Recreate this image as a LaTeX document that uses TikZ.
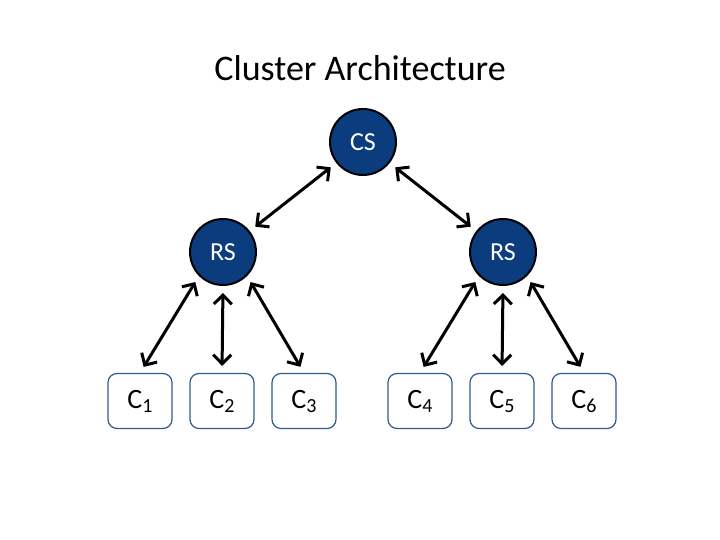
\documentclass[tikz,border=0pt]{standalone}
\usepackage{fontspec}
\setmainfont{Carlito}
\usetikzlibrary{arrows.meta}
\definecolor{navy}{HTML}{0B3C7D}
\definecolor{boxc}{HTML}{2E5C8E}
\begin{document}
\begin{tikzpicture}[x=1pt,y=-1pt,
  srv/.style={circle,fill=navy,draw=black,line width=2pt,minimum size=66pt,inner sep=0pt,text=white,font=\fontsize{26}{26}\selectfont},
  cli/.style={rectangle,rounded corners=9pt,draw=boxc,line width=1.2pt,minimum width=64pt,minimum height=55pt,inner sep=0pt,font=\fontsize{28}{28}\selectfont},
  link/.style={line width=3pt,{Straight Barb[length=9pt,width=18pt]}-{Straight Barb[length=9pt,width=18pt]},shorten <=7pt,shorten >=7pt}]
\useasboundingbox (0,0) rectangle (720,540);
\node (title) at (360,68) {\fontsize{36}{36}\selectfont Cluster Architecture};
\node[srv] (cs) at (363,142) {CS};
\node[srv] (rs1) at (223,252) {RS};
\node[srv] (rs2) at (503,252) {RS};
\foreach \n/\x in {1/140,2/222,3/304,4/420,5/502,6/584}
  \node[cli] (c\n) at (\x,401) {C\raisebox{-4pt}{\fontsize{20}{20}\selectfont\n}};
\draw[link] (cs) -- (rs1);
\draw[link] (cs) -- (rs2);
\draw[link] (rs1.225) -- (c1.north);
\draw[link] (rs1.south) -- (c2.north);
\draw[link] (rs1.315) -- (c3.north);
\draw[link] (rs2.225) -- (c4.north);
\draw[link] (rs2.south) -- (c5.north);
\draw[link] (rs2.315) -- (c6.north);
\end{tikzpicture}
\end{document}
